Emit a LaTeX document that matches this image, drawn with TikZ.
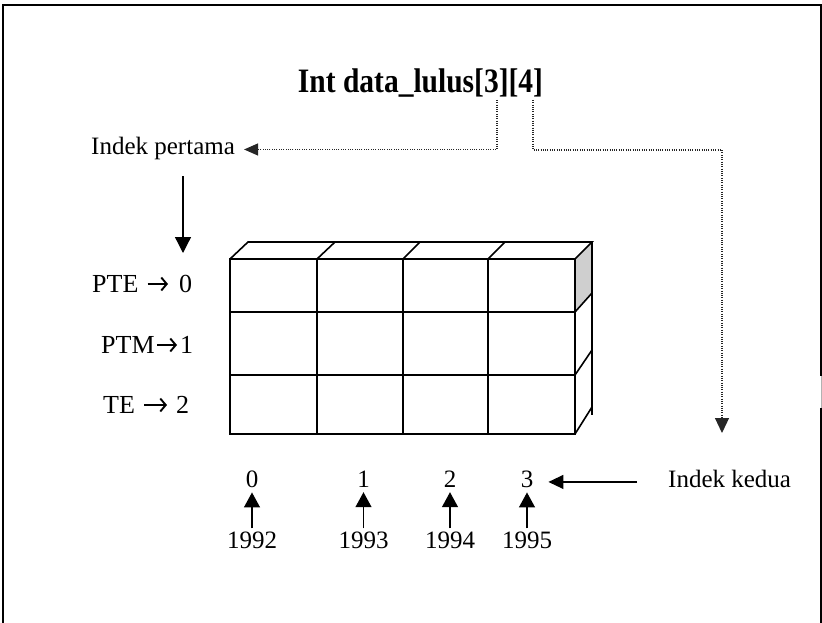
\documentclass[tikz,border=0pt]{standalone}
\usepackage{fontspec}
\setmainfont{Liberation Serif}
\usetikzlibrary{arrows.meta,calc}
\begin{document}
\begin{tikzpicture}[x=1pt,y=-1pt,
  lbl/.style={inner sep=0pt, font=\fontsize{25}{30}\selectfont},
  rowlbl/.style={inner sep=0pt, font=\fontsize{26}{30}\selectfont, anchor=base west},
  arr/.style={-{Triangle[length=15pt,width=14pt]}, line width=1.3pt},
  symarr/.style={line width=1.9pt, -{Straight Barb[length=5.5pt,width=13pt]}},
  dots/.style={line width=1.2pt, dash pattern=on 1pt off 1.3pt, black!85},
  gridline/.style={line width=1.6pt, line join=miter}]
\useasboundingbox (0,0) rectangle (822,623);
% frame
\draw[line width=2pt] (3,623) -- (3,5) -- (820.5,5) -- (820.5,376);
\draw[line width=2pt] (820.5,408) -- (820.5,623);
\draw[line width=0.6pt, black!30] (821,376) -- (821,408);
% title
\node[inner sep=0pt, anchor=base, font=\fontsize{29.5}{34}\selectfont\bfseries] (title) at (420.5,93)
  {\scalebox{1}[1.16]{Int data\_lulus[3][4]}};
\coordinate (t3) at (497,100);
\coordinate (t4) at (533,100);
% index labels
\node[lbl, anchor=base west] (pertama) at (91,155) {Indek pertama};
\node[lbl, anchor=base west] (kedua) at (668,487) {Indek kedua};
% dotted connectors
\draw[dots, -{Triangle[length=14pt,width=12pt]}] (t3) |- ([xshift=9pt,yshift=-0.5pt]pertama.east);
\coordinate (kdtip) at (722,433);
\draw[dots, -{Triangle[length=15pt,width=14pt]}] (t4) |- (722,150) -- (kdtip);
% down arrow
\coordinate (pd1) at (183,176);
\coordinate (pd2) at (183,253);
\draw[arr, -{Triangle[length=16pt,width=16pt]}] (pd1) -- (pd2);
% row labels
\node[rowlbl] (r0a) at (92,292) {PTE};
\node[rowlbl] (r0b) at (179,292) {0};
\node[rowlbl] (r1a) at (101,353) {PTM};
\node[rowlbl] (r1b) at (180,353) {1};
\node[rowlbl] (r2a) at (103,413) {TE};
\node[rowlbl] (r2b) at (176,413) {2};
\draw[symarr] ([xshift=9pt,yshift=8pt]r0a.base east) -- ([xshift=-11pt,yshift=8pt]r0b.base west);
\draw[symarr] ([xshift=2.5pt,yshift=8pt]r1a.base east) -- ([xshift=-3pt,yshift=8pt]r1b.base west);
\draw[symarr] ([xshift=9pt,yshift=8pt]r2a.base east) -- ([xshift=-9pt,yshift=8pt]r2b.base west);
% grid
\fill[black!19] (575,259) -- (592,242) -- (592,293) -- (575,312) -- cycle;
\draw[gridline] (230,259) rectangle (575,434);
\draw[gridline] (230,312) -- (575,312) (230,375) -- (575,375);
\draw[gridline] (317,259) -- (317,434) (403,259) -- (403,434) (488,259) -- (488,434);
\draw[gridline] (230,259) -- (248,242) -- (592,242) -- (575,259);
\draw[gridline] (317,259) -- (335,242) (403,259) -- (420,242) (488,259) -- (505,242);
\draw[gridline] (592,242) -- (592,415);
\draw[gridline] (575,312) -- (592,293) (575,375) -- (592,350) (575,434) -- (592,407);
% column indices
\foreach \i/\x/\yr in {0/252/1992, 1/363.5/1993, 2/450/1994, 3/527/1995} {
  \node[lbl, anchor=base] (idx\i) at (\x,487) {\i};
  \node[lbl, anchor=base] (yr\i) at (\x,548) {\yr};
  \draw[arr, -{Triangle[length=15pt,width=16pt]}] ([yshift=3pt]yr\i.north) -- ([yshift=-5pt]idx\i.south);
}
% kedua arrow
\draw[arr, -{Triangle[length=15pt,width=14pt]}] ([xshift=-31pt,yshift=-3.5pt]kedua.west) -- ([xshift=15pt,yshift=-3.5pt]idx3.east |- kedua.west);
\end{tikzpicture}
\end{document}
